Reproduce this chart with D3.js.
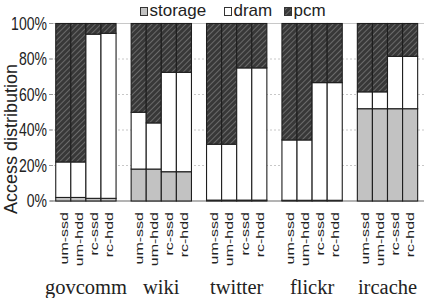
<!DOCTYPE html>
<html>
<head>
<meta charset="utf-8">
<script src="https://cdn.jsdelivr.net/npm/d3@7"></script>
<style>
  body { margin: 0; background: #fff; }
  svg { display: block; }
</style>
</head>
<body>
<div id="chart"></div>
<script>
const width = 424, height = 298;

// data (percent of accesses)
const groups = ["govcomm", "wiki", "twitter", "flickr", "ircache"];
const configs = ["um-ssd", "um-hdd", "rc-ssd", "rc-hdd"];
const storage = [[2, 2, 1.5, 1.5], [18, 18, 16.5, 16.5], [0.5, 0.5, 0.5, 0.5], [0.4, 0.4, 0.4, 0.4], [52, 52, 52, 52]];
const dram = [[20, 20, 92.5, 93], [32, 26, 56, 56], [31.5, 31.5, 74.5, 74.5], [34, 34, 66.3, 66.3], [9.5, 9.5, 29.5, 29.5]];
const pcm = [[78, 78, 6, 5.5], [50, 56, 27.5, 27.5], [68, 68, 25, 25], [65.6, 65.6, 33.3, 33.3], [38.5, 38.5, 18.5, 18.5]];
const seriesNames = ["storage", "dram", "pcm"];
const yTicks = [0, 20, 40, 60, 80, 100];

const svg = d3.select("#chart").append("svg")
    .attr("width", width)
    .attr("height", height);

// hatch pattern for pcm
const defs = svg.append("defs");
const pat = defs.append("pattern")
    .attr("id", "hatch")
    .attr("patternUnits", "userSpaceOnUse")
    .attr("width", 4)
    .attr("height", 4)
    .attr("patternTransform", "rotate(45)");
pat.append("rect").attr("width", 4).attr("height", 4).attr("fill", "#383838");
pat.append("line")
    .attr("x1", 0).attr("y1", 0).attr("x2", 0).attr("y2", 4)
    .attr("stroke", "#808080")
    .attr("stroke-width", 1.4);

const fills = { storage: "#c2c2c2", dram: "#ffffff", pcm: "url(#hatch)" };

const x0 = d3.scaleBand()
    .domain(groups)
    .range([48.2, 425.2])
    .paddingInner(0.2)
    .paddingOuter(0.1);

const x1 = d3.scaleBand()
    .domain(configs)
    .range([0, x0.bandwidth()]);

const y = d3.scaleLinear()
    .domain([0, 100])
    .range([201, 23.5]);

// gridlines
svg.append("g")
    .selectAll("line")
    .data(yTicks.filter(d => d > 0))
    .enter().append("line")
    .attr("x1", 50).attr("x2", width)
    .attr("y1", d => y(d)).attr("y2", d => y(d))
    .attr("stroke", "#c8c8c8")
    .attr("stroke-width", 1)
    .attr("stroke-dasharray", d => d == 100 ? null : "2,2");

// baseline
svg.append("line")
    .attr("x1", 50).attr("x2", width)
    .attr("y1", y(0)).attr("y2", y(0))
    .attr("stroke", "#9a9a9a")
    .attr("stroke-width", 1.5);

// y axis ticks and labels
const yAxis = svg.append("g");
yAxis.selectAll("line")
    .data(yTicks)
    .enter().append("line")
    .attr("x1", 49).attr("x2", 53)
    .attr("y1", d => y(d)).attr("y2", d => y(d))
    .attr("stroke", "#999");
yAxis.selectAll("text")
    .data(yTicks)
    .enter().append("text")
    .attr("transform", d => "translate(47," + y(d) + ") scale(0.78,1)")
    .attr("dy", "0.35em")
    .attr("text-anchor", "end")
    .style("font-family", "'Liberation Sans', Arial, sans-serif")
    .style("font-size", "18px")
    .style("fill", "#222")
    .text(d => d + "%");

// y axis title
svg.append("text")
    .attr("transform", "translate(16.8,139) rotate(-90)")
    .attr("text-anchor", "middle")
    .style("font-family", "'Liberation Sans', Arial, sans-serif")
    .style("font-size", "18px")
    .style("fill", "#222")
    .text("Access distribution");

// stacked bars
const barData = [];
groups.forEach((g, gi) => {
    configs.forEach((c, ci) => {
        let acc = 0;
        [storage, dram, pcm].forEach((series, si) => {
            const v = series[gi][ci];
            barData.push({ group: g, config: c, series: seriesNames[si], y0: acc, y1: acc + v });
            acc += v;
        });
    });
});

svg.append("g")
    .selectAll("rect")
    .data(barData)
    .enter().append("rect")
    .attr("x", d => x0(d.group) + x1(d.config))
    .attr("width", x1.bandwidth())
    .attr("y", d => y(d.y1))
    .attr("height", d => y(d.y0) - y(d.y1))
    .attr("fill", d => fills[d.series])
    .attr("stroke", "#1e1e1e")
    .attr("stroke-width", 1.1);

// config labels (rotated)
const cfgLabels = svg.append("g");
groups.forEach(g => {
    cfgLabels.selectAll(null)
        .data(configs)
        .enter().append("text")
        .attr("transform", c => "translate(" + (x0(g) + x1(c) + x1.bandwidth() / 2 + 0.5) + ",212) rotate(-90) scale(1,0.68)")
        .attr("dy", "0.35em")
        .attr("text-anchor", "end")
        .style("font-family", "'Liberation Sans', Arial, sans-serif")
        .style("font-size", "16px")
        .style("fill", "#222")
        .text(c => c);
});

// group labels
svg.append("g")
    .selectAll("text")
    .data(groups)
    .enter().append("text")
    .attr("x", d => x0(d) + x0.bandwidth() / 2)
    .attr("y", 293.5)
    .attr("text-anchor", "middle")
    .style("font-family", "'Liberation Serif', 'Times New Roman', serif")
    .style("font-size", "20.5px")
    .style("fill", "#222")
    .text(d => d);

// legend
const legendPos = [140, 224, 284];
const legend = svg.append("g");
seriesNames.forEach((s, i) => {
    legend.append("rect")
        .attr("x", legendPos[i] + 0.5)
        .attr("y", 7.5)
        .attr("width", 7)
        .attr("height", 8)
        .attr("fill", fills[s])
        .attr("stroke", "#333")
        .attr("stroke-width", 1);
    legend.append("text")
        .attr("x", legendPos[i] + 9.5)
        .attr("y", 15.8)
        .style("font-family", "'Liberation Sans', Arial, sans-serif")
        .style("font-size", "17px")
        .style("fill", "#222")
        .text(s);
});
</script>
</body>
</html>
